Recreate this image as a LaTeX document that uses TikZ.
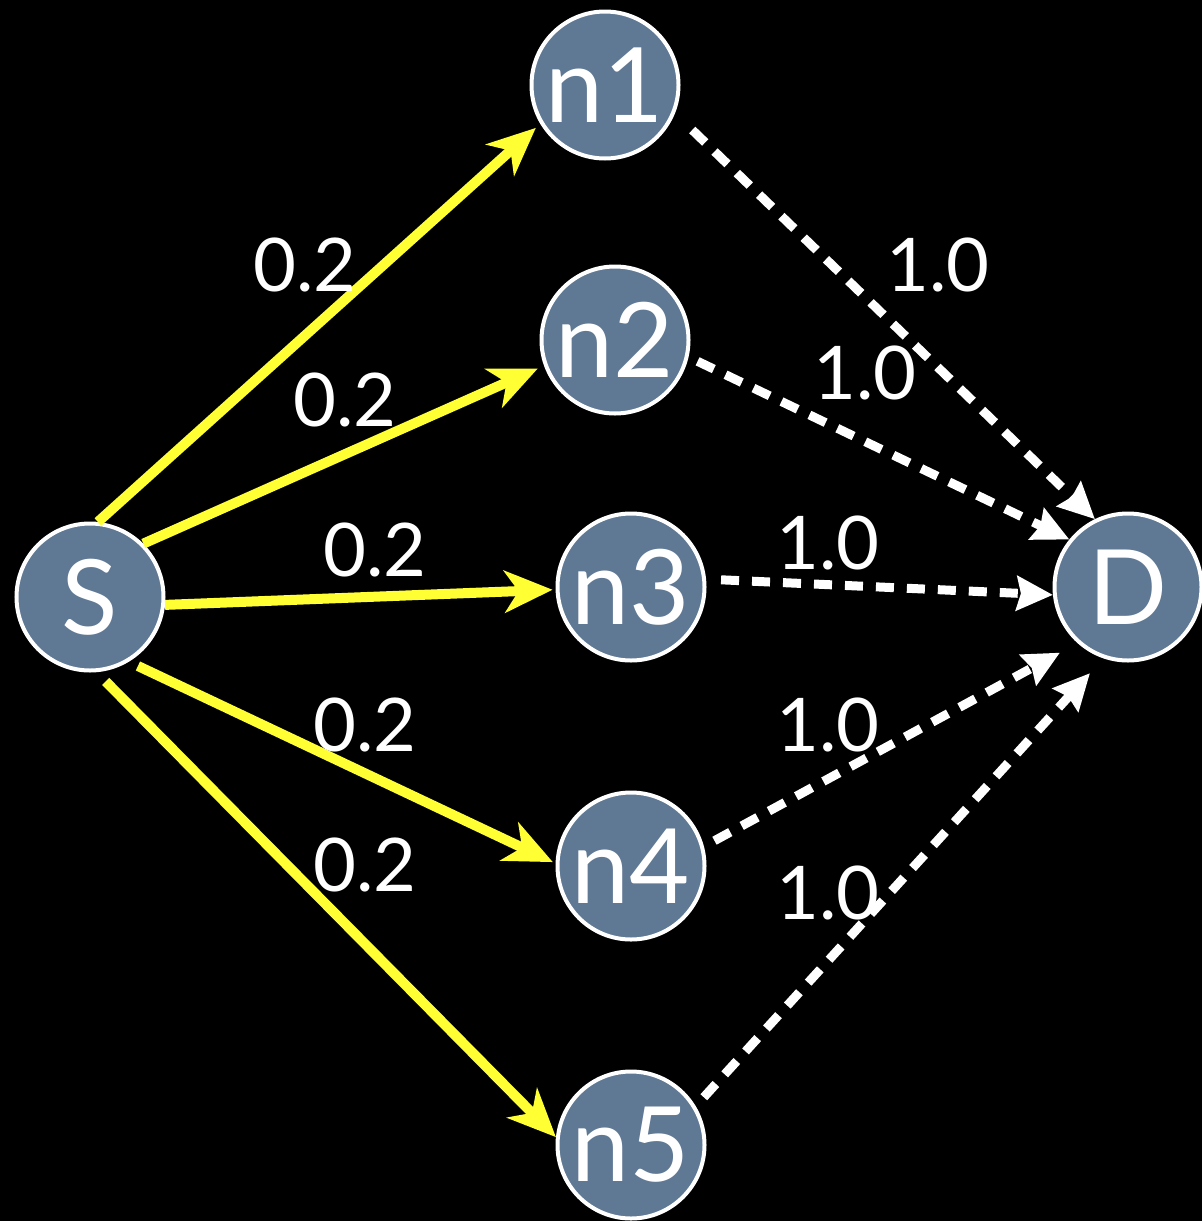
\documentclass[tikz,border=0pt]{standalone}
\usepackage{fontspec}
\setmainfont{Lato}
\usetikzlibrary{arrows.meta}
\definecolor{nodefill}{HTML}{5F7894}
\definecolor{yel}{HTML}{FFFF33}
\tikzset{
  vert/.style={circle, draw=white, line width=2pt, fill=nodefill, minimum size=73.5pt, inner sep=0pt, text=white, font=\fontsize{52}{56}\selectfont},
  yedge/.style={draw=yel, line width=5pt, -{Stealth[length=24pt,width=21pt,inset=7pt]}},
  wedge/.style={draw=white, line width=4.5pt, dash pattern=on 9pt off 6.5pt, -{Stealth[length=18pt,width=17pt,inset=2pt]}},
  lab/.style={text=white, font=\fontsize{37}{40}\selectfont, inner sep=0pt}
}
\begin{document}
\begin{tikzpicture}[x=0.5pt,y=-0.5pt]
\fill[black] (0,0) rectangle (1202,1221);
\useasboundingbox (0,0) rectangle (1202,1221);
\node[vert] (S) at (90,597) {S};
\node[vert] (n1) at (605,85) {n1};
\node[vert] (n2) at (615,340) {n2};
\node[vert] (n3) at (631,587) {n3};
\node[vert] (n4) at (631,866) {n4};
\node[vert] (n5) at (631,1145) {n5};
\node[vert] (D) at (1128,587) {D};
\draw[yedge, shorten >=3pt] (S.84) -- (n1.211);
\draw[yedge, shorten >=3.5pt] (S.45.5) -- (n2.200);
\draw[yedge, shorten >=1.5pt] (S.-6) -- (n3.182);
\draw[yedge, shorten <=5pt, shorten >=1.5pt] (S.-59.5) -- (n4.178.5);
\draw[yedge, shorten <=6.5pt] (S.-85) -- (n5.174);
\draw[wedge, shorten <=12pt] (n1.-22) -- (D.116);
\draw[wedge, shorten <=5pt] (n2.-13.5) -- (D.141);
\draw[wedge, shorten <=7.5pt] (n3.6) -- (D.186.5);
\draw[wedge, shorten <=6pt, shorten >=10pt] (n4.15) -- (D.228);
\draw[wedge, shorten <=6pt, shorten >=10pt] (n5.31) -- (D.251);
\node[lab] (l1) at (305,265) {0.2};
\node[lab] (l2) at (345,400) {0.2};
\node[lab] (l3) at (375,550) {0.2};
\node[lab] (l4) at (365,725) {0.2};
\node[lab] (l5) at (365,865) {0.2};
\node[lab] (m1) at (938,265) {1.0};
\node[lab] (m2) at (865,373) {1.0};
\node[lab] (m3) at (828,543) {1.0};
\node[lab] (m4) at (828,725) {1.0};
\node[lab] (m5) at (828,893) {1.0};
\end{tikzpicture}
\end{document}
